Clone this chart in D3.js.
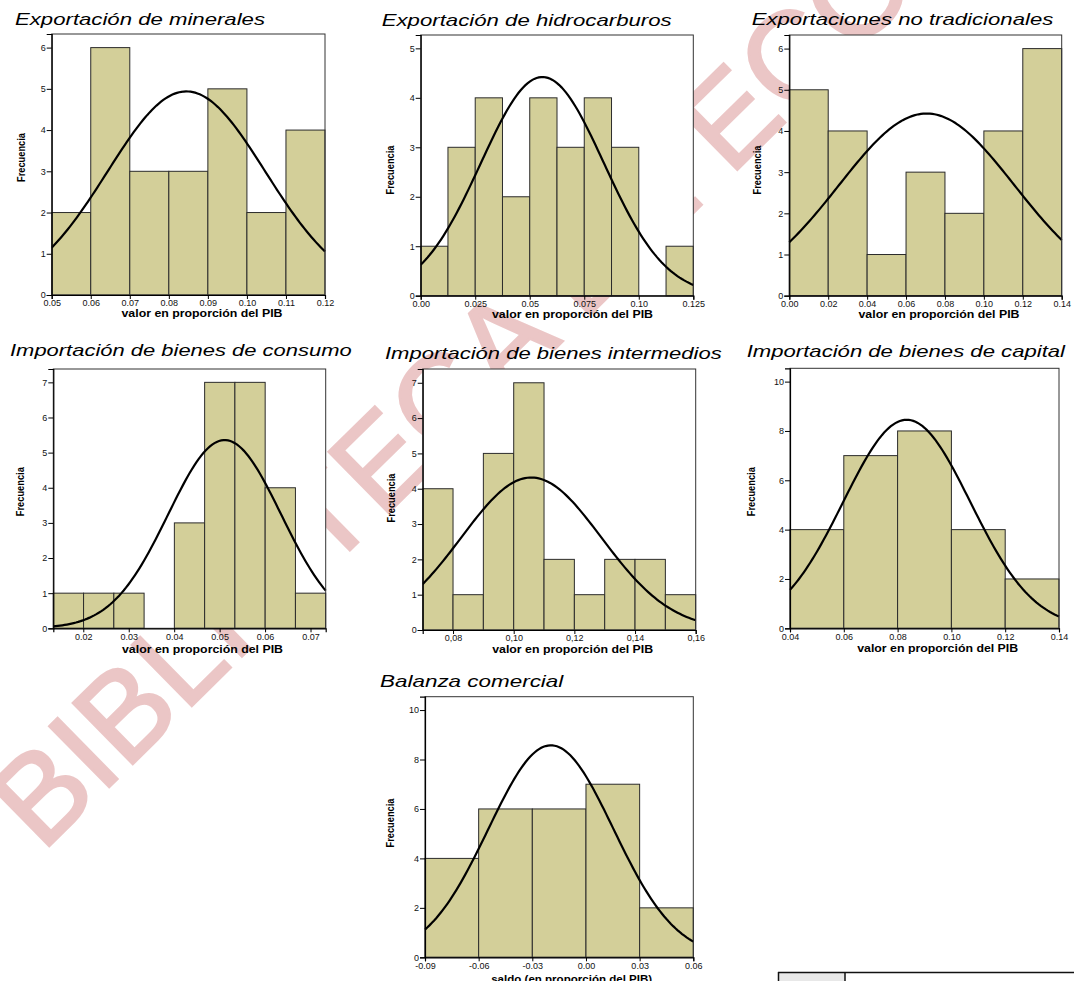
<!DOCTYPE html>
<html>
<head>
<meta charset="utf-8">
<script src="https://cdn.jsdelivr.net/npm/d3@7"></script>
<style>
  body { margin: 0; background: #fff; }
  svg text { font-family: "Liberation Sans", Arial, sans-serif; }
</style>
</head>
<body>
<div id="chart"></div>
<script>
// --- data ---------------------------------------------------------------
const titles = [
  "Exportación de minerales",
  "Exportación de hidrocarburos",
  "Exportaciones no tradicionales",
  "Importación de bienes de consumo",
  "Importación de bienes intermedios",
  "Importación de bienes de capital",
  "Balanza comercial"
];
const xTitles = [
  "valor en proporción del PIB",
  "valor en proporción del PIB",
  "valor en proporción del PIB",
  "valor en proporción del PIB",
  "valor en proporción del PIB",
  "valor en proporción del PIB",
  "saldo (en proporción del PIB)"
];
const binStart = [0.05, 0, 0, 0.0134, 0.07, 0.04, -0.09];
const binWidth = [0.01, 0.0125, 0.02, 0.00666, 0.01, 0.02, 0.03];
const frequencies = [
  [2, 6, 3, 3, 5, 2, 4],
  [1, 3, 4, 2, 4, 3, 4, 3, 0, 1],
  [5, 4, 1, 3, 2, 4, 6],
  [1, 1, 1, 0, 3, 7, 7, 4, 1],
  [4, 1, 5, 7, 2, 1, 2, 2, 1],
  [4, 7, 8, 4, 2],
  [4, 6, 6, 7, 2]
];
// normal curve fitted by SPSS (mean, sd)
const fitMean = [0.0845, 0.0558, 0.0706, 0.0511, 0.1058, 0.0834, -0.0196];
const fitSd = [0.0202, 0.0282, 0.0451, 0.0124, 0.0231, 0.0236, 0.0349];
const yMax = [6.33, 5.27, 6.33, 7.38, 7.39, 10.54, 10.54];
const yTicks = [
  [0, 1, 2, 3, 4, 5, 6],
  [0, 1, 2, 3, 4, 5],
  [0, 1, 2, 3, 4, 5, 6],
  [0, 1, 2, 3, 4, 5, 6, 7],
  [0, 1, 2, 3, 4, 5, 6, 7],
  [0, 2, 4, 6, 8, 10],
  [0, 2, 4, 6, 8, 10]
];
const xTicks = [
  [0.05, 0.06, 0.07, 0.08, 0.09, 0.10, 0.11, 0.12],
  [0, 0.025, 0.05, 0.075, 0.10, 0.125],
  [0, 0.02, 0.04, 0.06, 0.08, 0.10, 0.12, 0.14],
  [0.02, 0.03, 0.04, 0.05, 0.06, 0.07],
  [0.08, 0.10, 0.12, 0.14, 0.16],
  [0.04, 0.06, 0.08, 0.10, 0.12, 0.14],
  [-0.09, -0.06, -0.03, 0, 0.03, 0.06]
];
const xTickLabels = [
  ["0.05", "0.06", "0.07", "0.08", "0.09", "0.10", "0.11", "0.12"],
  ["0.00", "0.025", "0.05", "0.075", "0.10", "0.125"],
  ["0.00", "0.02", "0.04", "0.06", "0.08", "0.10", "0.12", "0.14"],
  ["0.02", "0.03", "0.04", "0.05", "0.06", "0.07"],
  ["0,08", "0,10", "0,12", "0,14", "0,16"],
  ["0.04", "0.06", "0.08", "0.10", "0.12", "0.14"],
  ["-0.09", "-0.06", "-0.03", "0.00", "0.03", "0.06"]
];
const watermark = "BIBLIOTECA DE ECONOMIA";

// --- layout ---------------------------------------------------------------
const W = 1074, H = 981;
const layout = [
  {l: 51.7, r: 325, t: 34, b: 295, tx: 15, ty: 25, tw: 250, yl: 21.7, yc: 157.5, xc: 202, xb: 316.5},
  {l: 420.7, r: 693.3, t: 35, b: 295.7, tx: 381.7, ty: 26, tw: 290, yl: 390.7, yc: 170, xc: 572.5, xb: 318},
  {l: 789.3, r: 1061.7, t: 35, b: 295.7, tx: 751.7, ty: 25, tw: 301.6, yl: 757.7, yc: 170, xc: 939, xb: 318},
  {l: 53.3, r: 325.7, t: 369, b: 628.3, tx: 10, ty: 355.7, tw: 341.7, yl: 20.7, yc: 491.7, xc: 202.5, xb: 653.3},
  {l: 422.7, r: 695.7, t: 369, b: 630, tx: 385, ty: 359, tw: 336.7, yl: 391.7, yc: 498, xc: 572.7, xb: 653.3},
  {l: 790, r: 1059, t: 368.3, b: 628.3, tx: 746.7, ty: 356.7, tw: 318.3, yl: 751.7, yc: 491.7, xc: 937.7, xb: 651.7},
  {l: 425, r: 693.3, t: 696.7, b: 957.3, tx: 380, ty: 686.7, tw: 183.3, yl: 390.7, yc: 823, xc: 571.7, xb: 983}
];

const svg = d3.select('#chart').append('svg')
  .attr('width', W)
  .attr('height', H);

svg.append('rect').attr('width', W).attr('height', H).attr('fill', '#fff');

// watermark sits behind everything
svg.append('text')
  .attr('transform', 'translate(42,853) rotate(-44.5)')
  .attr('font-size', 124)
  .attr('fill', '#ebc6c6')
  .attr('stroke', '#ebc6c6')
  .attr('stroke-width', 2.5)
  .text(watermark);

const normal = (x, m, s) => Math.exp(-0.5 * ((x - m) / s) ** 2) / (s * Math.sqrt(2 * Math.PI));

titles.forEach((title, i) => {
  const p = layout[i];
  const counts = frequencies[i];
  const w = binWidth[i];
  const x0 = binStart[i];
  const x1 = x0 + counts.length * w;
  const n = d3.sum(counts);

  const x = d3.scaleLinear().domain([x0, x1]).range([p.l, p.r]);
  const y = d3.scaleLinear().domain([0, yMax[i]]).range([p.b, p.t]);

  const g = svg.append('g').attr('class', 'panel-' + i);

  // plot area
  g.append('rect')
    .attr('x', p.l).attr('y', p.t)
    .attr('width', p.r - p.l).attr('height', p.b - p.t)
    .attr('fill', '#fff');

  // bars
  g.append('g')
    .selectAll('rect')
    .data(counts)
    .enter()
    .append('rect')
    .attr('x', (d, k) => x(x0 + k * w))
    .attr('width', (d, k) => x(x0 + (k + 1) * w) - x(x0 + k * w))
    .attr('y', d => y(d))
    .attr('height', d => y(0) - y(d))
    .attr('fill', '#d3cf99')
    .attr('stroke', '#2b2b2b')
    .attr('stroke-width', 1);

  // fitted normal curve
  const pts = d3.range(0, 121).map(k => x0 + (x1 - x0) * k / 120);
  const line = d3.line()
    .x(d => x(d))
    .y(d => y(n * w * normal(d, fitMean[i], fitSd[i])));
  g.append('path')
    .datum(pts)
    .attr('d', line)
    .attr('fill', 'none')
    .attr('stroke', '#000')
    .attr('stroke-width', 2.2);

  // frame
  g.append('rect')
    .attr('x', p.l).attr('y', p.t)
    .attr('width', p.r - p.l).attr('height', p.b - p.t)
    .attr('fill', 'none')
    .attr('stroke', '#333')
    .attr('stroke-width', 1);

  // axes
  const yAxis = d3.axisLeft(y).tickValues(yTicks[i]).tickSize(5).tickPadding(1)
    .tickFormat(d3.format('d'));
  const ya = g.append('g')
    .attr('transform', `translate(${p.l},0)`)
    .call(yAxis);
  const labels = xTickLabels[i];
  const xAxis = d3.axisBottom(x).tickValues(xTicks[i]).tickSize(4).tickPadding(1)
    .tickFormat((d, k) => labels[k]);
  const xa = g.append('g')
    .attr('transform', `translate(0,${p.b})`)
    .call(xAxis);
  [ya, xa].forEach(a => {
    a.select('.domain').attr('stroke', '#000').attr('stroke-width', 1.2);
    a.selectAll('.tick line').attr('stroke', '#000');
    a.selectAll('text').attr('font-size', 9).attr('fill', '#111')
      .attr('font-family', '"Liberation Sans", Arial, sans-serif');
  });

  // titles
  g.append('text')
    .attr('x', p.tx).attr('y', p.ty)
    .attr('font-size', 17)
    .attr('font-style', 'italic')
    .attr('textLength', p.tw)
    .attr('lengthAdjust', 'spacingAndGlyphs')
    .attr('fill', '#000')
    .text(title);

  g.append('text')
    .attr('transform', `translate(${p.yl + 3.5},${p.yc}) rotate(-90)`)
    .attr('text-anchor', 'middle')
    .attr('font-size', 10)
    .attr('font-weight', 'bold')
    .attr('textLength', 49)
    .attr('lengthAdjust', 'spacingAndGlyphs')
    .text('Frecuencia');

  g.append('text')
    .attr('x', p.xc).attr('y', p.xb)
    .attr('text-anchor', 'middle')
    .attr('font-size', 11.5)
    .attr('font-weight', 'bold')
    .attr('textLength', 161)
    .attr('lengthAdjust', 'spacingAndGlyphs')
    .text(xTitles[i]);
});

// start of the table that follows on the page
const tbl = svg.append('g').attr('class', 'table-stub');
tbl.append('rect')
  .attr('x', 778.5).attr('y', 972.5)
  .attr('width', 66.5).attr('height', 12)
  .attr('fill', '#e8e8e8');
tbl.append('line')
  .attr('x1', 778).attr('x2', W).attr('y1', 972.5).attr('y2', 972.5)
  .attr('stroke', '#111').attr('stroke-width', 1.5);
tbl.append('line')
  .attr('x1', 778.5).attr('x2', 778.5).attr('y1', 972).attr('y2', H)
  .attr('stroke', '#111').attr('stroke-width', 1.5);
tbl.append('line')
  .attr('x1', 845).attr('x2', 845).attr('y1', 972).attr('y2', H)
  .attr('stroke', '#111').attr('stroke-width', 1.5);
</script>
</body>
</html>
